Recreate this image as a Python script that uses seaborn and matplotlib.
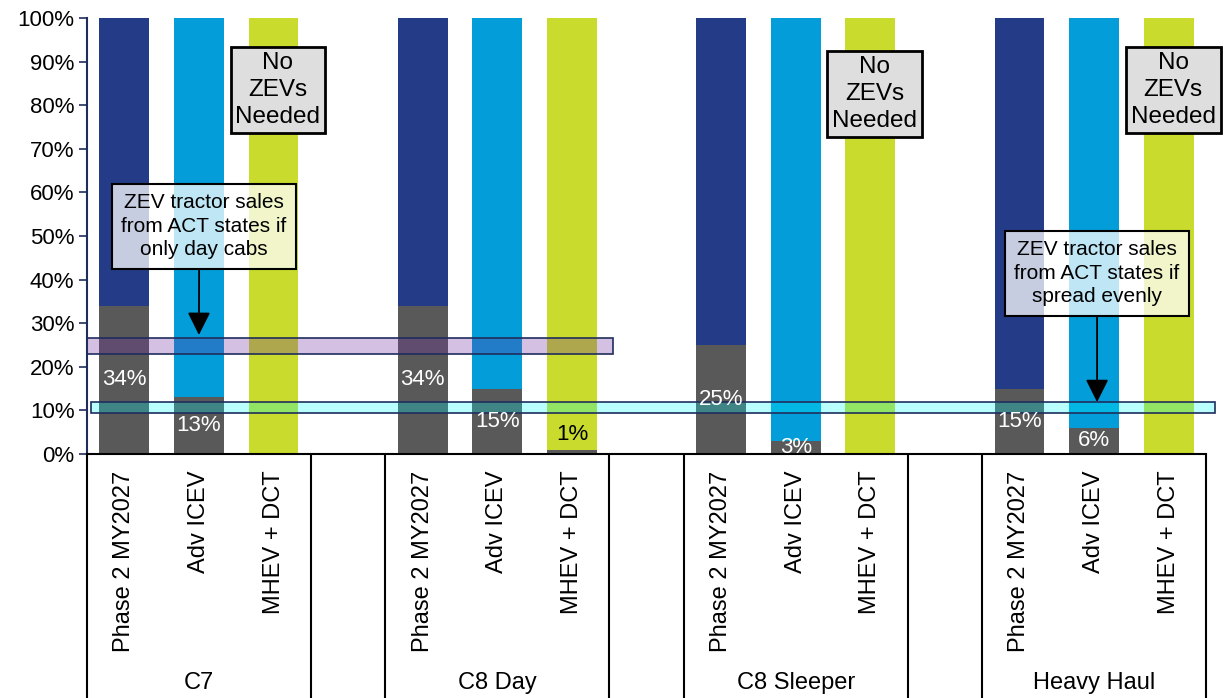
import matplotlib
matplotlib.use("Agg")
import matplotlib.pyplot as plt
import numpy as np
import pandas as pd
import seaborn as sns
from matplotlib.patches import Rectangle
from matplotlib.ticker import PercentFormatter, MultipleLocator

# ---- data -------------------------------------------------------------
groups = ["C7", "C8 Day", "C8 Sleeper", "Heavy Haul"]
techs = ["Phase 2 MY2027", "Adv ICEV", "MHEV + DCT"]

c7_zev = [0.34, 0.13, 0.00]
c8_day_zev = [0.34, 0.15, 0.01]
c8_sleeper_zev = [0.25, 0.03, 0.00]
heavy_haul_zev = [0.15, 0.06, 0.00]

# ZEV tractor sales share ranges from ACT states
day_cab_band = [0.23, 0.265]
spread_band = [0.094, 0.119]

day_cab_note = "ZEV tractor sales\nfrom ACT states if\nonly day cabs"
spread_note = "ZEV tractor sales\nfrom ACT states if\nspread evenly"
no_zev_note = "No\nZEVs\nNeeded"

tech_colors = ["#243B87", "#039DD9", "#C9DB2C"]
zev_color = "#595959"

# ---- table ------------------------------------------------------------
slots_per_group = len(techs) + 1          # one empty slot between groups
rows = []
for gi, (g, zev) in enumerate(zip(groups, [c7_zev, c8_day_zev, c8_sleeper_zev, heavy_haul_zev])):
    for ti, t in enumerate(techs):
        rows.append({"group": g, "tech": t, "zev": zev[ti], "total": 1.0,
                     "pos": gi * slots_per_group + ti})
df = pd.DataFrame(rows)

# ---- figure -----------------------------------------------------------
sns.set_style("white")
plt.rcParams["font.family"] = ["Liberation Sans", "DejaVu Sans"]
plt.rcParams["text.color"] = "black"
plt.rcParams["xtick.color"] = "black"
plt.rcParams["ytick.color"] = "black"

fig = plt.figure(figsize=(12.25, 6.98), dpi=100)
ax = fig.add_axes([87 / 1225, 1 - 454 / 698, (1206 - 87) / 1225, (454 - 18) / 698])

bar_w = 0.67
sns.barplot(data=df, x="pos", y="total", hue="tech", hue_order=techs,
            palette=dict(zip(techs, tech_colors)), native_scale=True, dodge=False,
            width=bar_w, saturation=1, errorbar=None, legend=False, linewidth=0, ax=ax)
sns.barplot(data=df, x="pos", y="zev", color=zev_color, native_scale=True,
            width=bar_w, saturation=1, errorbar=None, linewidth=0, ax=ax)

n_slots = len(groups) * slots_per_group - 1
ax.set_xlim(-0.5, n_slots - 0.5)
ax.set_ylim(0, 1)

# value labels on the ZEV segments
for _, r in df.iterrows():
    if r.zev <= 0:
        continue
    label = f"{r.zev:.0%}"
    if r.zev >= 0.03:
        ax.text(r.pos, r.zev / 2, label, ha="center", va="center", color="white",
                fontsize=16, zorder=6, clip_on=False)
    else:
        ax.annotate(label, (r.pos, r.zev), xytext=(0, 11), textcoords="offset points",
                    ha="center", va="center", color="black", fontsize=16, zorder=6)

# ACT states reference bands
ax.add_patch(Rectangle((-0.5, day_cab_band[0]), 7.05, day_cab_band[1] - day_cab_band[0],
                       facecolor="#7030A0", alpha=0.3, edgecolor="none", zorder=4, clip_on=False))
ax.add_patch(Rectangle((-0.5, day_cab_band[0]), 7.05, day_cab_band[1] - day_cab_band[0],
                       facecolor="none", edgecolor="#1F2D5C", lw=1.2, zorder=4, clip_on=False))
ax.add_patch(Rectangle((-0.45, spread_band[0]), 15.07, spread_band[1] - spread_band[0],
                       facecolor="#00FFFF", alpha=0.27, edgecolor="none", zorder=4, clip_on=False))
ax.add_patch(Rectangle((-0.45, spread_band[0]), 15.07, spread_band[1] - spread_band[0],
                       facecolor="none", edgecolor="#1F2D5C", lw=1.2, zorder=4, clip_on=False))

# callouts pointing at the bands
note_box = dict(boxstyle="square,pad=0.45", fc=(1, 1, 1, 0.75), ec="black", lw=1.5)
arrow = dict(arrowstyle="-|>,head_length=0.7,head_width=0.35", color="black", lw=1.3,
             mutation_scale=20, shrinkA=0, shrinkB=0)
ax.annotate(day_cab_note, xy=(1, 0.273), xytext=(1.07, 0.522), ha="center", va="center",
            fontsize=15, linespacing=1.3, bbox=note_box,
            arrowprops=dict(arrow, relpos=(0.47, 0)), zorder=7)
ax.annotate(spread_note, xy=(13.04, spread_band[1]), xytext=(13.04, 0.414), ha="center", va="center",
            fontsize=15, linespacing=1.3, bbox=note_box,
            arrowprops=dict(arrow, relpos=(0.5, 0)), zorder=7)

# "No ZEVs Needed" labels above bars that need no ZEVs
no_box = dict(boxstyle="square,pad=0.2", fc="#DEDEDE", ec="black", lw=2)
no_y = {"C7": 0.835, "C8 Sleeper": 0.825, "Heavy Haul": 0.835}
for _, r in df[df.zev <= 0].iterrows():
    ax.text(r.pos + 0.06, no_y.get(r.group, 0.835), no_zev_note, ha="center", va="center",
            fontsize=17.5, linespacing=1.3, bbox=no_box, zorder=7, clip_on=False)

# axes styling
ax.yaxis.set_major_locator(MultipleLocator(0.1))
ax.yaxis.set_major_formatter(PercentFormatter(1.0, decimals=0))
ax.tick_params(axis="y", labelsize=16, length=6, width=1.2, color="#1F2D5C",
               labelcolor="black", direction="out", left=True, pad=3)
for s in ["top", "right"]:
    ax.spines[s].set_visible(False)
ax.spines["left"].set_color("#1F2D5C")
ax.spines["left"].set_linewidth(1.5)
ax.spines["bottom"].set_color("black")
ax.spines["bottom"].set_linewidth(1.5)

ax.set_xticks(df.pos.to_numpy(), df.tech.tolist())
ax.tick_params(axis="x", length=0, labelsize=17, labelrotation=90, pad=12, labelcolor="black")
for lbl in ax.get_xticklabels():
    lbl.set_va("top")
    lbl.set_ha("center")
ax.set_xlabel("")
ax.set_ylabel("")

# category boxes below the axis
xt = ax.get_xaxis_transform()
bounds = []
for gi in range(len(groups)):
    start = gi * slots_per_group - 0.5
    bounds += [start, start + len(techs)]
    if gi < len(groups) - 1:
        bounds.append(start + slots_per_group)
for b in sorted(set(bounds)):
    ax.plot([b, b], [0, -0.62], transform=xt, color="black", lw=1.5, clip_on=False, zorder=5)
for gi, g in enumerate(groups):
    ax.text(gi * slots_per_group + (len(techs) - 1) / 2, -0.525, g, transform=xt,
            ha="center", va="center", fontsize=17, color="black")

fig.savefig("out.png", dpi=100)
